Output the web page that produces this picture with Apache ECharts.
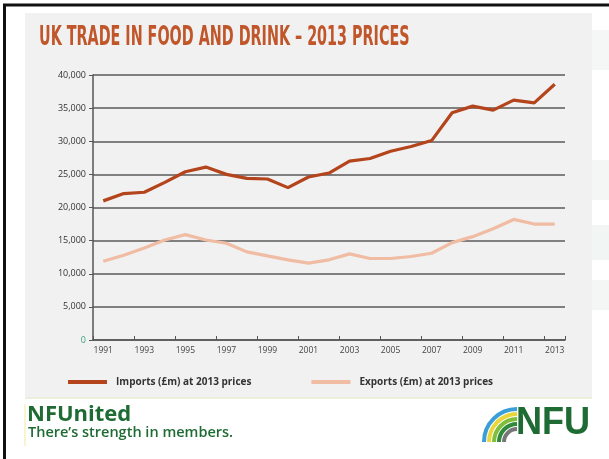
<!DOCTYPE html>
<html>
<head>
<meta charset="utf-8">
<script src="https://cdn.jsdelivr.net/npm/echarts@6/dist/echarts.min.js"></script>
<style>
html,body{margin:0;padding:0;background:#ffffff;}
#chart{width:609px;height:459px;}
</style>
</head>
<body>
<div id="chart"></div>
<script>
const years = ['1991','1992','1993','1994','1995','1996','1997','1998','1999','2000','2001','2002','2003','2004','2005','2006','2007','2008','2009','2010','2011','2012','2013'];
const imports = [21000,22100,22300,23800,25400,26100,25000,24400,24300,23000,24600,25200,27000,27400,28500,29200,30100,34300,35300,34700,36200,35800,38600];
const exports = [11900,12800,13900,15100,15900,15100,14600,13300,12700,12100,11600,12100,13000,12300,12300,12600,13100,14700,15600,16800,18200,17500,17500];
const yTicks = [0,5000,10000,15000,20000,25000,30000,35000,40000];
const seriesNames = ['Imports (£m) at 2013 prices','Exports (£m) at 2013 prices'];
const titleText = 'UK TRADE IN FOOD AND DRINK – 2013 PRICES';

const chart = echarts.init(document.getElementById('chart'), null, {renderer:'canvas'});
const green = '#1f6b34';
const option = {
  backgroundColor: '#ffffff',
  animation: false,
  graphic: [
    {type:'rect', z:-10, shape:{x:25,y:13,width:567,height:384}, style:{fill:'#f1f1f1'}},
    {type:'rect', z:-11, shape:{x:592,y:30,width:17,height:40}, style:{fill:'#f5f7f6'}},
    {type:'rect', z:-11, shape:{x:592,y:160,width:17,height:40}, style:{fill:'#f3f6f5'}},
    {type:'rect', z:-11, shape:{x:592,y:225,width:17,height:35}, style:{fill:'#f1f5f3'}},
    {type:'rect', z:-11, shape:{x:592,y:280,width:17,height:30}, style:{fill:'#f3f6f5'}},
    {type:'line', z:-5, shape:{x1:3,y1:5,x2:609,y2:5}, style:{stroke:'#111',lineWidth:3}},
    {type:'line', z:-5, shape:{x1:4.5,y1:4,x2:4.5,y2:459}, style:{stroke:'#111',lineWidth:3}},
    {type:'line', z:-5, shape:{x1:25,y1:398,x2:592,y2:398}, style:{stroke:'#eeeedc',lineWidth:2}},
    {type:'text', x:39, y:24, scaleX:0.59, style:{text:titleText, fill:'#c0562a', font:'bold 27px "Liberation Sans Narrow", "DejaVu Sans Condensed", sans-serif'}},
    {type:'line', shape:{x1:25,y1:404,x2:25,y2:446}, style:{stroke:'#f3e9a0',lineWidth:1}},
    {type:'text', left:27, top:404, style:{text:'NFUnited', fill:green, font:'bold 22px "Open Sans", "Noto Sans", sans-serif'}},
    {type:'text', left:28, top:425, style:{text:'There’s strength in members.', fill:green, font:'600 14.5px "Open Sans", "Noto Sans", sans-serif'}},
    {type:'text', left:516, top:405, style:{text:'NFU', fill:green, font:'bold 38px "Liberation Sans", Arial, sans-serif'}, scaleX:0.95},
    {type:'arc', shape:{cx:517,cy:442,r:33,startAngle:Math.PI*1.0,endAngle:Math.PI*1.5}, style:{stroke:'#3a9fd8',lineWidth:4,fill:null}},
    {type:'arc', shape:{cx:517,cy:442,r:28,startAngle:Math.PI*1.0,endAngle:Math.PI*1.5}, style:{stroke:'#e9d63a',lineWidth:4,fill:null}},
    {type:'arc', shape:{cx:517,cy:442,r:23,startAngle:Math.PI*1.0,endAngle:Math.PI*1.5}, style:{stroke:'#7fbf3c',lineWidth:4,fill:null}},
    {type:'arc', shape:{cx:517,cy:442,r:18,startAngle:Math.PI*1.0,endAngle:Math.PI*1.5}, style:{stroke:'#2f8a3a',lineWidth:4,fill:null}},
    {type:'arc', shape:{cx:517,cy:442,r:13,startAngle:Math.PI*1.0,endAngle:Math.PI*1.5}, style:{stroke:'#777',lineWidth:4,fill:null}}
  ],
  legend: {
    top: 372, left: 63,
    itemWidth: 39, itemHeight: 4, itemGap: 60,
    icon: 'rect',
    textStyle: {fontSize: 10, color:'#333', fontWeight:'bold', fontFamily:'"Open Sans", "Noto Sans", sans-serif', padding:[0,0,0,4]},
    data: seriesNames
  },
  grid: {left:93, right:44, top:75, bottom:119, containLabel:false},
  xAxis: {
    type:'category', data: years, boundaryGap:true,
    axisLine:{lineStyle:{color:'#555', width:1.5}},
    axisTick:{show:true, inside:true, length:4, lineStyle:{color:'#555'}},
    axisLabel:{interval:1, fontSize:8.5, color:'#444', margin:6, fontFamily:'"Open Sans", sans-serif'}
  },
  yAxis: {
    type:'value', min:0, max:40000, interval:5000,
    axisLine:{show:true, lineStyle:{color:'#555', width:1.5}},
    axisTick:{show:true, length:4, lineStyle:{color:'#555'}},
    splitLine:{lineStyle:{color:'#5a5a5a', width:1.5}},
    axisLabel:{fontSize:9, margin:7, fontFamily:'"Open Sans", sans-serif',
      color: function(v){ return v==0 ? '#3aa07e' : '#333'; },
      formatter: function(v){ return v.toLocaleString('en-GB'); }}
  },
  series: [
    {name: seriesNames[0], type:'line', data: imports, symbol:'none', lineStyle:{color:'#b4441c', width:3.2}, itemStyle:{color:'#b4441c'}},
    {name: seriesNames[1], type:'line', data: exports, symbol:'none', lineStyle:{color:'#f0bca3', width:3.2}, itemStyle:{color:'#f0bca3'}}
  ]
};
chart.setOption(option);
</script>
</body>
</html>
